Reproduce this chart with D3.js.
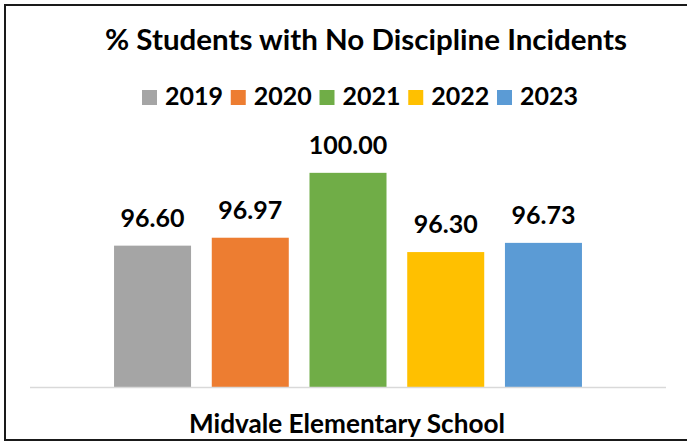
<!DOCTYPE html>
<html>
<head>
<meta charset="utf-8">
<script src="https://cdn.jsdelivr.net/npm/d3@7"></script>
<style>
  body { margin: 0; background: #fff; }
  text { font-family: Lato, "Open Sans", sans-serif; font-weight: bold; fill: #000; }
</style>
</head>
<body>
<div id="chart"></div>
<script>
// Data
var years = ["2019", "2020", "2021", "2022", "2023"];
var values = [96.60, 96.97, 100.00, 96.30, 96.73];
var colors = ["#A5A5A5", "#ED7D31", "#70AD47", "#FFC000", "#5B9BD5"];
var schoolName = "Midvale Elementary School";
var titleText = "% Students with No Discipline Incidents";

var width = 687, height = 442;
var plot = { left: 30, right: 666, top: 130, bottom: 387 };

var svg = d3.select("#chart")
    .append("svg")
    .attr("width", width)
    .attr("height", height);

svg.append("rect")
    .attr("width", width)
    .attr("height", height)
    .attr("fill", "#fff");

// outer frame (right edge cut off in the original)
svg.append("path")
    .attr("d", "M687,5 H5 V440 H687")
    .attr("fill", "none")
    .attr("stroke", "#1a1a1a")
    .attr("stroke-width", 2);

// Scales
var x = d3.scaleBand()
    .domain(years)
    .range([plot.left, plot.right])
    .paddingInner(0.212)
    .paddingOuter(0.86);

var y = d3.scaleLinear()
    .domain([90, 102])
    .range([plot.bottom, plot.top]);

var color = d3.scaleOrdinal().domain(years).range(colors);

// Title
svg.append("text")
    .attr("x", 366)
    .attr("y", 50)
    .attr("text-anchor", "middle")
    .attr("textLength", 522)
    .attr("lengthAdjust", "spacingAndGlyphs")
    .style("font-size", "28px")
    .text(titleText);

// Legend
var legend = svg.append("g").attr("class", "legend")
    .selectAll("g")
    .data(years)
    .enter().append("g")
    .attr("transform", function(d, i) { return "translate(" + (142 + i * 88.75) + ",90)"; });

legend.append("rect")
    .attr("width", 15)
    .attr("height", 15)
    .attr("fill", function(d) { return color(d); });

legend.append("text")
    .attr("x", 23)
    .attr("y", 15)
    .style("font-size", "25px")
    .text(function(d) { return d; });

// Bars
var data = years.map(function(d, i) { return { year: d, value: values[i] }; });

svg.append("g").attr("class", "bars")
    .selectAll("rect")
    .data(data)
    .enter().append("rect")
    .attr("x", function(d) { return x(d.year); })
    .attr("y", function(d) { return y(d.value); })
    .attr("width", x.bandwidth())
    .attr("height", function(d) { return y(90) - y(d.value); })
    .attr("fill", function(d) { return color(d.year); });

// Value labels
svg.append("g").attr("class", "labels")
    .selectAll("text")
    .data(data)
    .enter().append("text")
    .attr("x", function(d) { return x(d.year) + x.bandwidth() / 2; })
    .attr("y", function(d) { return y(d.value) - 19; })
    .attr("text-anchor", "middle")
    .style("font-size", "25px")
    .text(function(d) { return d.value.toFixed(2); });

// Baseline
svg.append("line")
    .attr("x1", plot.left)
    .attr("x2", plot.right)
    .attr("y1", y(90) + 0.5)
    .attr("y2", y(90) + 0.5)
    .attr("stroke", "#d9d9d9")
    .attr("stroke-width", 1.5);

// Category label
svg.append("text")
    .attr("x", (plot.left + plot.right) / 2 - 1)
    .attr("y", 433)
    .attr("text-anchor", "middle")
    .attr("textLength", 316)
    .attr("lengthAdjust", "spacingAndGlyphs")
    .style("font-size", "26px")
    .text(schoolName);
</script>
</body>
</html>
